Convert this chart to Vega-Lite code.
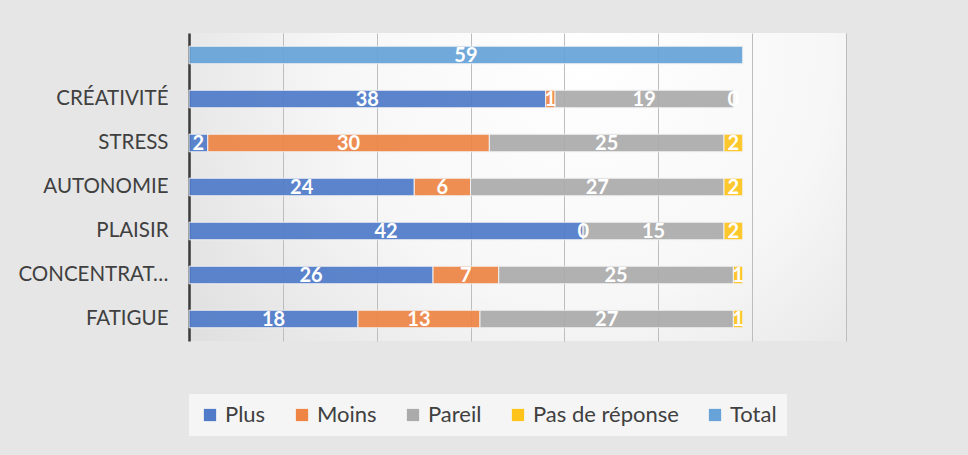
{
  "$schema": "https://vega.github.io/schema/vega-lite/v6.json",
  "width": 657,
  "height": 308,
  "autosize": {"type": "none"},
  "padding": {"left": 189, "top": 33, "right": 122, "bottom": 114},
  "background": "#e6e6e6",
  "config": {
    "font": "Lato",
    "view": {
      "stroke": null,
      "fill": {
        "gradient": "radial",
        "x1": 0.6, "y1": 0.3, "x2": 0.6, "y2": 0.3, "r1": 0, "r2": 0.75,
        "stops": [
          {"offset": 0, "color": "#ffffff"},
          {"offset": 0.5, "color": "#f7f7f7"},
          {"offset": 1, "color": "#dedede"}
        ]
      }
    }
  },
  "data": {
    "values": [
      {"cat": "Total", "serie": "Total", "value": 59},
      {"cat": "CRÉATIVITÉ", "serie": "Plus", "value": 38},
      {"cat": "CRÉATIVITÉ", "serie": "Moins", "value": 1},
      {"cat": "CRÉATIVITÉ", "serie": "Pareil", "value": 19},
      {"cat": "CRÉATIVITÉ", "serie": "Pas de réponse", "value": 0},
      {"cat": "STRESS", "serie": "Plus", "value": 2},
      {"cat": "STRESS", "serie": "Moins", "value": 30},
      {"cat": "STRESS", "serie": "Pareil", "value": 25},
      {"cat": "STRESS", "serie": "Pas de réponse", "value": 2},
      {"cat": "AUTONOMIE", "serie": "Plus", "value": 24},
      {"cat": "AUTONOMIE", "serie": "Moins", "value": 6},
      {"cat": "AUTONOMIE", "serie": "Pareil", "value": 27},
      {"cat": "AUTONOMIE", "serie": "Pas de réponse", "value": 2},
      {"cat": "PLAISIR", "serie": "Plus", "value": 42},
      {"cat": "PLAISIR", "serie": "Moins", "value": 0},
      {"cat": "PLAISIR", "serie": "Pareil", "value": 15},
      {"cat": "PLAISIR", "serie": "Pas de réponse", "value": 2},
      {"cat": "CONCENTRATION", "serie": "Plus", "value": 26},
      {"cat": "CONCENTRATION", "serie": "Moins", "value": 7},
      {"cat": "CONCENTRATION", "serie": "Pareil", "value": 25},
      {"cat": "CONCENTRATION", "serie": "Pas de réponse", "value": 1},
      {"cat": "FATIGUE", "serie": "Plus", "value": 18},
      {"cat": "FATIGUE", "serie": "Moins", "value": 13},
      {"cat": "FATIGUE", "serie": "Pareil", "value": 27},
      {"cat": "FATIGUE", "serie": "Pas de réponse", "value": 1}
    ]
  },
  "transform": [
    {"calculate": "indexof(['Plus','Moins','Pareil','Pas de réponse','Total'], datum.serie)", "as": "ord"},
    {"stack": "value", "groupby": ["cat"], "sort": [{"field": "ord", "order": "ascending"}], "as": ["v0", "v1"]},
    {"calculate": "(datum.v0 + datum.v1) / 2", "as": "mid"}
  ],
  "encoding": {
    "y": {
      "field": "cat",
      "type": "nominal",
      "sort": ["Total", "CRÉATIVITÉ", "STRESS", "AUTONOMIE", "PLAISIR", "CONCENTRATION", "FATIGUE"],
      "scale": {"paddingInner": 0.6, "paddingOuter": 0.3},
      "axis": {
        "title": null,
        "ticks": false,
        "grid": false,
        "domainColor": "#3a3a3a",
        "domainWidth": 2.5,
        "labelFontSize": 20.5,
        "labelColor": "#404040",
        "labelPadding": 21,
        "labelLimit": 152,
        "labelExpr": "datum.label == 'Total' ? '' : datum.label"
      }
    }
  },
  "layer": [
    {
      "mark": {"type": "bar", "stroke": "#f2f2f2", "strokeWidth": 1, "opacity": 0.92},
      "encoding": {
        "x": {
          "field": "v0",
          "type": "quantitative",
          "scale": {"domain": [0, 70], "nice": false},
          "axis": {
            "title": null,
            "labels": false,
            "ticks": false,
            "domain": false,
            "grid": true,
            "gridColor": "#bdbdbd",
            "gridWidth": 1,
            "values": [10, 20, 30, 40, 50, 60, 70]
          }
        },
        "x2": {"field": "v1"},
        "color": {
          "field": "serie",
          "type": "nominal",
          "scale": {
            "domain": ["Plus", "Moins", "Pareil", "Pas de réponse", "Total"],
            "range": ["#4f7bc9", "#ee8545", "#ababab", "#ffc31a", "#67a3d9"]
          },
          "legend": {
            "title": null,
            "orient": "bottom",
            "direction": "horizontal",
            "symbolType": "square",
            "symbolSize": 150,
            "symbolStrokeWidth": 0,
            "symbolOpacity": 1,
            "labelFontSize": 22,
            "labelColor": "#404040",
            "fillColor": "#f5f5f5",
            "padding": 10,
            "columnPadding": 25,
            "offset": 53
          }
        }
      }
    },
    {
      "mark": {"type": "text", "color": "white", "fontWeight": "bold", "fontSize": 20, "baseline": "middle", "dy": 1},
      "encoding": {
        "x": {"field": "mid", "type": "quantitative"},
        "text": {"field": "value", "type": "quantitative"}
      }
    }
  ]
}
